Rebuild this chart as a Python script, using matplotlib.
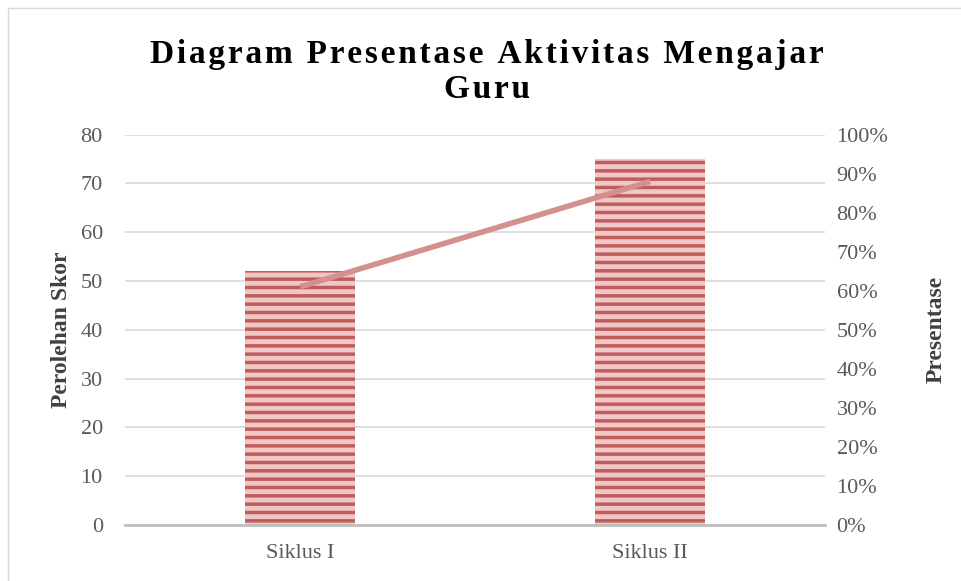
import matplotlib.pyplot as plt
import matplotlib.patches as mpatches
from matplotlib.ticker import PercentFormatter

categories = ['Siklus I', 'Siklus II']
skor = [52, 75]
presentase = [61, 88]
title_lines = ['Diagram Presentase Aktivitas Mengajar', 'Guru']

plt.rcParams['font.family'] = ['Liberation Serif', 'DejaVu Serif']
plt.rcParams['hatch.linewidth'] = 2.5

fig = plt.figure(figsize=(9.62, 5.81), dpi=100)
fig.patches.append(mpatches.Rectangle((0.008, -0.01), 1.0, 0.997, transform=fig.transFigure,
                                      fill=False, edgecolor='#d9d9d9', linewidth=1))
ax = fig.add_axes([0.130, 0.0964, 0.728, 0.672])

x = range(len(categories))
ax.bar(x, skor, width=0.314, color='#f1c6c6', edgecolor='#bf5c5c', linewidth=0,
       hatch='--', zorder=2)
ax.set_xlim(-0.5, 1.5)
ax.set_ylim(0, 80)
ax.set_yticks(range(0, 81, 10))
ax.set_xticks(list(x))
ax.set_xticklabels(categories)
ax.grid(axis='y', color='#d9d9d9', linewidth=1.2, zorder=0)
ax.set_axisbelow(True)
for s in ['top', 'left', 'right']:
    ax.spines[s].set_visible(False)
ax.spines['bottom'].set_color('#bfbfbf')
ax.spines['bottom'].set_linewidth(2)
ax.tick_params(axis='y', length=0, labelsize=16, colors='#595959', pad=16)
ax.tick_params(axis='x', length=0, labelsize=16, colors='#595959', pad=14)
ax.set_ylabel('Perolehan Skor', fontsize=17, fontweight='bold', color='#404040', labelpad=6)

ax2 = ax.twinx()
ax2.plot(x, presentase, color='#d4908f', linewidth=4, solid_capstyle='butt', zorder=3)
ax2.set_ylim(0, 100)
ax2.set_yticks(range(0, 101, 10))
ax2.yaxis.set_major_formatter(PercentFormatter(decimals=0))
for s in ax2.spines.values():
    s.set_visible(False)
ax2.tick_params(axis='y', length=0, labelsize=16, colors='#595959', pad=8)
ax2.set_ylabel('Presentase', fontsize=17, fontweight='bold', color='#404040', labelpad=27)

spaced = '\n'.join('\u200a'.join(line) for line in title_lines)
fig.text(0.506, 0.876, spaced, ha='center', va='center',
         fontsize=24, fontweight='bold', color='black', linespacing=1.2)

fig.savefig('out.png', dpi=100)
